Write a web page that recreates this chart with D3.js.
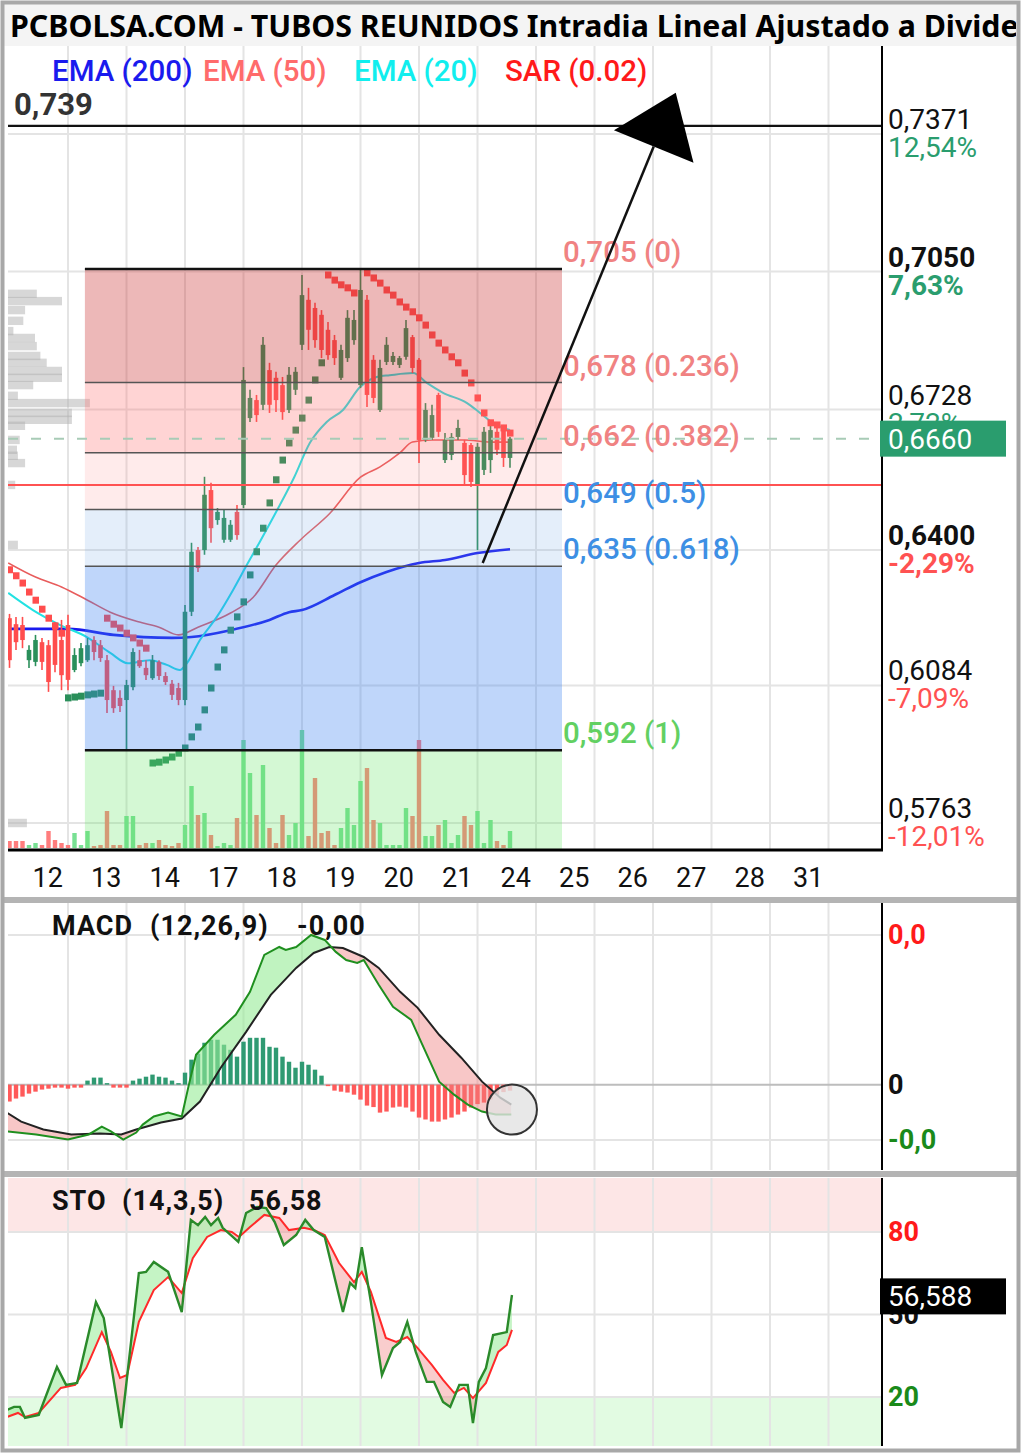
<!DOCTYPE html>
<html>
<head>
<meta charset="utf-8">
<script src="https://cdn.jsdelivr.net/npm/d3@7"></script>
<style>
body { margin: 0; background: #fff; }
svg text { font-family: Roboto, "Noto Sans", sans-serif; }
</style>
</head>
<body>
<div id="chart"></div>
<script>
// hourly bars, index 0 = first bar of day 12 (9 bars per session)
var open = [.6241,.6227,.6225,.6143,.6139,.6185,.6178,.6218,.6190,.6225,
  .6120,.6136,.6143,.6190,.6178,.6143,.6073,.6055,.6050,.6080,
  .6143,.6125,.6101,.6139,.6106,.6088,.6078,.6050,.6256,.6400,
  .6400,.6540,.6470,.6424,.6424,.6489,.6505,.6708,.6750,.6739,
  .6820,.6802,.6785,.6727,.6774,.6879,.6984,.6965,.6949,.6914,
  .6890,.6802,.6848,.6890,.6785,.6984,.6844,.6727,.6839,.6839,
  .6832,.6851,.6897,.6844,.6657,.6662,.6762,.6610,.6622,.6664,
  .6650,.6645,.6552,.6587,.6610,.6676,.6680,.6615];
var high = [.6251,.6244,.6244,.6178,.6202,.6195,.6190,.6232,.6237,.6249,
  .6171,.6183,.6195,.6199,.6190,.6155,.6083,.6073,.6097,.6171,
  .6167,.6143,.6155,.6143,.6115,.6097,.6090,.6272,.6417,.6407,
  .6571,.6557,.6498,.6494,.6470,.6505,.6827,.6774,.6762,.6897,
  .6837,.6816,.6804,.6827,.6827,.7042,.7012,.6977,.6960,.6932,
  .6902,.6879,.6960,.6960,.7054,.6995,.6855,.6844,.6897,.6862,
  .6853,.6937,.6902,.6848,.6743,.6739,.6767,.6673,.6673,.6704,
  .6657,.6650,.6650,.6687,.6692,.6685,.6692,.6664];
var low = [.6125,.6167,.6171,.6125,.6129,.6120,.6069,.6115,.6073,.6073,
  .6115,.6129,.6139,.6143,.6139,.6020,.6020,.6022,.5933,.6073,
  .6125,.6097,.6097,.6097,.6085,.6050,.6038,.6038,.6246,.6349,
  .6389,.6417,.6459,.6417,.6419,.6424,.6498,.6699,.6699,.6727,
  .6720,.6722,.6704,.6720,.6762,.6867,.6867,.6872,.6848,.6844,
  .6832,.6797,.6839,.6879,.6778,.6734,.6743,.6722,.6832,.6832,
  .6825,.6844,.6813,.6603,.6652,.6657,.6664,.6603,.6610,.6657,
  .6552,.6547,.6400,.6575,.6580,.6622,.6594,.6592];
var close = [.6143,.6185,.6190,.6167,.6190,.6139,.6092,.6132,.6108,.6097,
  .6155,.6171,.6178,.6162,.6148,.6050,.6031,.6036,.6085,.6162,
  .6129,.6108,.6143,.6106,.6092,.6062,.6050,.6256,.6396,.6358,
  .6529,.6451,.6489,.6475,.6459,.6435,.6797,.6755,.6715,.6879,
  .6739,.6750,.6722,.6809,.6816,.6995,.6914,.6890,.6867,.6855,
  .6848,.6867,.6942,.6937,.7007,.6762,.6755,.6825,.6879,.6853,
  .6848,.6918,.6825,.6657,.6727,.6715,.6676,.6657,.6664,.6685,
  .6575,.6559,.6641,.6676,.6680,.6634,.6615,.6660];
var volume = [7,7,7,3,5,3,17,8,5,3,15,3,17,2,3,37,3,3,32,32,
  3,5,5,8,3,2,5,23,62,33,35,13,2,5,3,30,108,75,33,83,
  20,5,33,13,25,118,12,70,15,17,3,20,40,23,67,80,28,25,3,3,
  3,40,32,108,12,12,23,28,5,13,32,23,37,5,28,7,3,17];

var days = ["12","13","14","17","18","19","20","21","24","25","26","27","28","31"];
var barsPerDay = 9;

// indicator lines: [bar index, value]
var ema200 = [[-0.2,0.6216],[9,0.6216],[16,0.6202],[25,0.6195],[28,0.6197],[34,0.6213],[40,0.6237],[43,0.6255],
  [45,0.6260],[50,0.6295],[54,0.6325],[58,0.6349],[63,0.6370],[67,0.6377],[72,0.6393],[77,0.6402]];
var ema50 = [[-0.2,0.6370],[4,0.6337],[8,0.6314],[12,0.6283],[15.5,0.6255],[20,0.6232],[23,0.6220],[26,0.6202],
  [29,0.6220],[34,0.6253],[37.5,0.6290],[41,0.6365],[44.7,0.6423],[49.3,0.6486],[54,0.6570],[57,0.6594],
  [60,0.6626],[62,0.6652],[65,0.6657],[70,0.6657],[74,0.6652],[77,0.6652]];
var ema20 = [[-0.2,0.6300],[3.6,0.6260],[7.8,0.6225],[11.9,0.6197],[15.5,0.6160],[18.2,0.6136],[21.6,0.6143],
  [24.2,0.6132],[26.2,0.6120],[27.3,0.6136],[29.3,0.6190],[31.9,0.6244],[34.4,0.6307],[36.5,0.6365],
  [38.5,0.6419],[41.2,0.6494],[43.8,0.6570],[46.2,0.6650],[48.8,0.6699],[51.3,0.6727],[53.9,0.6780],
  [56.5,0.6804],[58.5,0.6808],[62.1,0.6813],[64.2,0.6790],[66.7,0.6767],[70.4,0.6743],[72.4,0.6720],
  [74.4,0.6696],[77,0.6680]];
var sar = [.6354,.6340,.6323,.6302,.6283,.6262,.6241,.6223,.6206,.6055,
  .6057,.6059,.6062,.6064,.6066,.6241,.6227,.6218,.6206,.6195,
  .6183,.6171,.5903,.5905,.5910,.5917,.5926,.5938,.5964,.5987,
  .6027,.6078,.6127,.6167,.6213,.6244,.6279,.6342,.6396,.6451,
  .6510,.6564,.6610,.6650,.6680,.6708,.6750,.6797,.6837,.7042,
  .7030,.7019,.7012,.7000,null,.7047,.7035,.7023,.7007,.6995,
  .6979,.6967,.6956,.6942,.6925,.6902,.6883,.6867,.6851,.6837,
  .6813,.6790,.6755,.6720,.6697,.6692,.6685,.6673];

var priceGrid = [0.7371, 0.7050, 0.6728, 0.6400, 0.6084, 0.5763];
var priceGridText = ["0,7371","0,7050","0,6728","0,6400","0,6084","0,5763"];
var priceGridPct = ["12,54%","7,63%","2,72%","-2,29%","-7,09%","-12,01%"];
var strongLevels = [0.7050, 0.6400];
var lastPrice = 0.6660;
var sarLevel = 0.6552;
var targetLevel = 0.739;

var fibHigh = 0.7056, fibLow = 0.5933;
var fibRatios = [0, 0.236, 0.382, 0.5, 0.618, 1];
var fibLabels = ["0,705 (0)","0,678 (0.236)","0,662 (0.382)","0,649 (0.5)","0,635 (0.618)","0,592 (1)"];
var fibSpan = [11.6, 85];
var arrowFrom = [72.8, 0.6370], arrowTo = [102.5, 0.7467];

var profilePrice = [0.6998,0.6981,0.6960,0.6935,0.6911,0.6895,0.6876,0.6853,0.6837,0.6818,0.6802,0.6785,
  0.6760,0.6743,0.6720,0.6704,0.6690,0.6657,0.6634,0.6620,0.6603,0.6552,0.6412,0.5763];
var profileVol = [32,60,19,17,6,30,32,36,43,60,60,28,11,91,71,71,19,13,10,11,19,8,11,21];

var macdLine = [[-0.4,-0.00313],[4.1,-0.00333],[9,-0.00367],[12.2,-0.00333],[14.2,-0.0028],[15.6,-0.00313],
  [17.5,-0.00367],[19.5,-0.0032],[20.5,-0.00267],[22.2,-0.00213],[24.4,-0.00187],[26.5,-0.00213],[27.6,0],
  [28.7,0.002],[31.5,0.00333],[34.8,0.00467],[37,0.0062],[39.2,0.00867],[41.5,0.0092],[42.5,0.009],
  [44.1,0.0092],[46.4,0.01],[48.5,0.00967],[50.2,0.00887],[51.8,0.00833],[53.5,0.00813],[54.5,0.00833],
  [56.8,0.00667],[59,0.0052],[61.8,0.00433],[63.3,0.00287],[66.1,0.0002],[68.4,-0.00067],[70.5,-0.00133],
  [72.7,-0.0018],[74.8,-0.002],[77.2,-0.002]];
var macdSignal = [[-0.4,-0.00187],[1.8,-0.00247],[5.2,-0.003],[9.5,-0.00333],[13.9,-0.00327],[17.2,-0.00333],
  [19.5,-0.003],[23.3,-0.00253],[26.5,-0.00227],[29.3,-0.00113],[32.5,0.00113],[36.4,0.00353],[40.2,0.006],
  [44.1,0.0078],[46.8,0.0088],[49.2,0.0092],[51.3,0.00913],[54.5,0.00853],[56.8,0.0078],[60.1,0.0062],
  [62.8,0.00513],[66.1,0.00333],[69.5,0.0018],[72.7,0.0002],[75.5,-0.00087],[77.2,-0.00133]];
var macdHist = [-0.00113,-0.00093,-0.0008,-0.0006,-0.00047,-0.00033,-0.00027,-0.0002,-0.0002,-0.00027,
  -0.0002,-0.0002,0.00027,0.00047,0.00047,0.0001,-0.0002,-0.0002,-0.0002,0.00027,
  0.0004,0.00053,0.00067,0.00053,0.00047,0.00027,0.0001,0.0008,0.00167,0.00207,
  0.0028,0.003,0.003,0.00267,0.00233,0.00187,0.00287,0.00313,0.00313,0.00313,
  0.00253,0.00247,0.00187,0.00153,0.00113,0.00153,0.00133,0.001,0.0006,-0.0001,
  -0.0004,-0.00047,-0.00053,-0.00067,-0.001,-0.0014,-0.0015,-0.00187,-0.0018,-0.00153,
  -0.00147,-0.00153,-0.0018,-0.0022,-0.00233,-0.00247,-0.00247,-0.00233,-0.0022,-0.002,
  -0.0018,-0.00153,-0.0013,-0.0012,-0.001,-0.00067,-0.0005,-0.0004];
var macdTicks = [0.01, 0, -0.0037];
var macdTickText = ["0,0", "0", "-0,0"];
var macdMark = [77.3, -0.00167];

var stoK = [[-0.4,15.3],[0.7,16.4],[1.6,16.4],[2.4,12.4],[4.5,13.5],[7.3,30.9],[8.7,24.4],[10.4,25.1],
  [13.3,54.5],[14.5,48.7],[17.2,8.7],[19.9,65.1],[21,65.5],[22.2,69.1],[24.4,65.5],[26.5,50.9],[27.9,84.4],
  [29,82.5],[30.1,85.5],[31,82.5],[32.1,85.1],[32.8,81.5],[35.2,76.4],[36.4,86.9],[38.1,89.1],[39.5,88.7],
  [40.8,83.6],[42.2,75.3],[44.1,78.9],[45.5,84.4],[46.8,80.7],[48.5,78.2],[51.3,50.9],[52.4,61.5],
  [53.2,59.6],[54.2,74.5],[55.6,54.5],[57.3,28.0],[59,37.8],[60.1,40.0],[61.2,47.3],[62.5,36.4],
  [64.2,25.5],[65.3,25.5],[66.7,18.2],[67.8,16.4],[69.2,24.4],[70.5,24.4],[71.3,10.5],[72.2,25.5],
  [73.3,30.5],[74.4,42.5],[76.5,43.6],[77.3,57.1]];
var stoD = [[-0.4,12.7],[1.3,14.2],[2.4,12.7],[4.5,14.2],[7.9,23.3],[10.1,24.4],[11.8,30.5],[14.2,43.6],
  [15.6,36.4],[17,26.9],[18.1,28.0],[19.9,47.3],[22.2,58.9],[24.4,63.6],[26.5,57.8],[28.2,70.5],[30.4,78.2],
  [32.5,80.7],[34.2,80.0],[35.3,78.2],[37,81.8],[39.2,86.2],[41.5,85.1],[43,80.7],[45.3,81.5],[46.8,80.7],
  [48.5,78.9],[50.7,68.7],[53,61.8],[54.2,65.5],[55.6,58.2],[57.9,41.5],[59.5,40.0],[61.2,41.8],
  [62.8,37.8],[65,31.6],[66.7,26.2],[68.4,21.5],[69.9,23.3],[71.3,19.6],[73.3,25.1],[75.2,36.4],
  [76.5,38.9],[77.3,44.4]];
var stoTicks = [80, 50, 20];
var stoLast = 56.588;

var width = 1022, height = 1454;
var plotL = 8, plotR = 882, plotT = 46, plotB = 850;
var macdT = 903, macdB = 1170, stoT = 1178, stoB = 1446;

var up = "#2a8f5a", down = "#ff4d4d";

var svg = d3.select("#chart").append("svg")
  .attr("width", width).attr("height", height).style("display", "block");
var defs = svg.append("defs");

function clip(id, x0, y0, x1, y1) {
  defs.append("clipPath").attr("id", id).append("rect")
    .attr("x", x0).attr("y", y0).attr("width", x1 - x0).attr("height", y1 - y0);
  return "url(#" + id + ")";
}
function comma(v, n) { return v.toFixed(n).replace(".", ","); }

var x = d3.scaleLinear().domain([0, 126]).range([9.5, 828.5]);
var y = d3.scaleLinear().domain([0.5763, 0.7371]).range([823, 134]);
var yVol = d3.scaleLinear().domain([0, 120]).range([848, 728]);
var xProf = d3.scaleLinear().domain([0, 100]).range([8, 98]);
var yM = d3.scaleLinear().domain([-0.0037, 0.01]).range([1140, 935]);
var yS = d3.scaleLinear().domain([0, 100]).range([1452, 1177]);

svg.append("rect").attr("width", width).attr("height", height).attr("fill", "#fff");

// title
svg.append("rect").attr("x", 4).attr("y", 4).attr("width", 1014).attr("height", 42).attr("fill", "#f4f4f4");
svg.append("text")
  .attr("x", 10).attr("y", 37)
  .attr("clip-path", clip("titleClip", 4, 4, 1016, 46))
  .style("font-family", "'Noto Sans', sans-serif")
  .style("font-weight", 700).style("font-size", "30.3px").attr("fill", "#000")
  .text("PCBOLSA.COM - TUBOS REUNIDOS Intradia Lineal Ajustado a Dividendos");

var dayLines = d3.range(1, days.length + 1).map(function(k) { return k * barsPerDay; });

function vgrid(g, y0, y1) {
  g.selectAll(null).data(dayLines).enter().append("line")
    .attr("x1", function(d) { return x(d); }).attr("x2", function(d) { return x(d); })
    .attr("y1", y0).attr("y2", y1)
    .attr("stroke", "#e4e4e4").attr("stroke-width", 2);
}

// ---------- price panel ----------
var main = svg.append("g").attr("clip-path", clip("mainClip", plotL, plotT, plotR, plotB));
vgrid(main, plotT, plotB);
main.selectAll(null).data(priceGrid).enter().append("line")
  .attr("x1", plotL).attr("x2", plotR)
  .attr("y1", function(d) { return y(d); }).attr("y2", function(d) { return y(d); })
  .attr("stroke", "#e4e4e4").attr("stroke-width", 2);

// volume by price
main.selectAll(null).data(profilePrice).enter().append("rect")
  .attr("x", xProf(0))
  .attr("y", function(d) { return y(d + 0.00098); })
  .attr("width", function(d, i) { return xProf(profileVol[i]) - xProf(0); })
  .attr("height", function(d) { return y(d - 0.00098) - y(d + 0.00098); })
  .attr("fill", "rgba(175,175,175,0.5)");

// volume
main.selectAll(null).data(volume).enter().append("rect")
  .attr("x", function(d, i) { return x(i) - 2.2; })
  .attr("y", function(d) { return yVol(d); })
  .attr("width", 4.4)
  .attr("height", function(d) { return yVol(0) - yVol(d); })
  .attr("fill", function(d, i) { return close[i] >= open[i] ? "#78e093" : "#ff7d7d"; });

// moving averages
var emaLine = d3.line().x(function(d) { return x(d[0]); }).y(function(d) { return y(d[1]); })
  .curve(d3.curveMonotoneX);
main.append("path").attr("d", emaLine(ema50)).attr("fill", "none").attr("stroke", "#e85c5c").attr("stroke-width", 1.6);
main.append("path").attr("d", emaLine(ema200)).attr("fill", "none").attr("stroke", "#1a1aee").attr("stroke-width", 2.6);
main.append("path").attr("d", emaLine(ema20)).attr("fill", "none").attr("stroke", "#22e2e2").attr("stroke-width", 2);

// candles
var bars = main.selectAll(null).data(open).enter().append("g");
bars.append("line")
  .attr("x1", function(d, i) { return x(i); }).attr("x2", function(d, i) { return x(i); })
  .attr("y1", function(d, i) { return y(high[i]); }).attr("y2", function(d, i) { return y(low[i]); })
  .attr("stroke", function(d, i) { return close[i] >= open[i] ? up : down; })
  .attr("stroke-width", 1.6);
bars.append("rect")
  .attr("x", function(d, i) { return x(i) - 2.3; })
  .attr("width", 4.6)
  .attr("y", function(d, i) { return y(Math.max(open[i], close[i])); })
  .attr("height", function(d, i) { return Math.max(1.5, Math.abs(y(open[i]) - y(close[i]))); })
  .attr("fill", function(d, i) { return close[i] >= open[i] ? up : down; });

// parabolic SAR
var sarPts = sar.map(function(v, i) { return [i, v]; }).filter(function(d) { return d[1] !== null; });
main.selectAll(null).data(sarPts).enter().append("rect")
  .attr("x", function(d) { return x(d[0]) - 3; })
  .attr("y", function(d) { return y(d[1]) - 3.5; })
  .attr("width", 6.5).attr("height", 7)
  .attr("fill", function(d) { return d[1] > close[d[0]] ? "#ff4d4d" : up; });

// fibonacci retracement zones
function fibPrice(r) { return fibHigh - r * (fibHigh - fibLow); }
var zoneColors = ["rgba(204,51,51,0.35)", "rgba(255,100,100,0.28)", "rgba(255,120,120,0.15)",
  "rgba(120,170,230,0.2)", "rgba(60,130,240,0.33)", "rgba(100,230,100,0.28)"];
var zoneEdges = fibRatios.map(fibPrice).concat([y.invert(plotB + 2)]);
main.selectAll(null).data(zoneColors).enter().append("rect")
  .attr("x", x(fibSpan[0])).attr("width", x(fibSpan[1]) - x(fibSpan[0]))
  .attr("y", function(d, i) { return y(zoneEdges[i]); })
  .attr("height", function(d, i) { return y(zoneEdges[i + 1]) - y(zoneEdges[i]); })
  .attr("fill", function(d) { return d; });
main.selectAll(null).data(fibRatios).enter().append("line")
  .attr("x1", x(fibSpan[0])).attr("x2", x(fibSpan[1]))
  .attr("y1", function(d) { return y(fibPrice(d)); }).attr("y2", function(d) { return y(fibPrice(d)); })
  .attr("stroke", function(d) { return d === 0 || d === 1 ? "#111" : "#555"; })
  .attr("stroke-width", function(d) { return d === 0 || d === 1 ? 2.5 : 1.5; });

// reference lines
main.append("line").attr("x1", plotL).attr("x2", plotR).attr("y1", y(sarLevel)).attr("y2", y(sarLevel))
  .attr("stroke", "#ff5252").attr("stroke-width", 2);
main.append("line").attr("x1", plotL).attr("x2", plotR).attr("y1", y(lastPrice)).attr("y2", y(lastPrice))
  .attr("stroke", "#a8cbb6").attr("stroke-width", 2).attr("stroke-dasharray", "10,13");
main.append("line").attr("x1", plotL).attr("x2", plotR).attr("y1", y(targetLevel)).attr("y2", y(targetLevel))
  .attr("stroke", "#111").attr("stroke-width", 2.2);

var fibColors = ["#f08282", "#f08282", "#f08282", "#3d8fe4", "#3d8fe4", "#62d062"];
main.selectAll(null).data(fibRatios).enter().append("text")
  .attr("x", x(fibSpan[1]) + 1)
  .attr("y", function(d) { return y(fibPrice(d)) - 7; })
  .attr("fill", function(d, i) { return fibColors[i]; })
  .style("font-size", "29.5px").style("font-weight", 500)
  .text(function(d, i) { return fibLabels[i]; });

// projection arrow
var ax0 = x(arrowFrom[0]), ay0 = y(arrowFrom[1]), ax1 = x(arrowTo[0]), ay1 = y(arrowTo[1]);
var alen = Math.hypot(ax1 - ax0, ay1 - ay0), ux = (ax1 - ax0) / alen, uy = (ay1 - ay0) / alen;
var hb = [ax1 - ux * 58, ay1 - uy * 58];
main.append("line").attr("x1", ax0).attr("y1", ay0).attr("x2", hb[0]).attr("y2", hb[1])
  .attr("stroke", "#111").attr("stroke-width", 2.5);
main.append("path")
  .attr("d", "M" + ax1 + "," + ay1 + "L" + (hb[0] - uy * 43) + "," + (hb[1] + ux * 43) +
    "L" + (hb[0] + uy * 43) + "," + (hb[1] - ux * 43) + "Z")
  .attr("fill", "#000");

svg.append("text").attr("x", 14).attr("y", 115).attr("fill", "#333")
  .style("font-size", "31px").style("font-weight", 700).text(comma(targetLevel, 3));

var legendText = ["EMA (200)", "EMA (50)", "EMA (20)", "SAR (0.02)"];
var legendColors = ["#1a1aee", "#ff6b6b", "#11eeee", "#ff1a1a"];
var legendX = [52, 203, 354, 505];
svg.selectAll(null).data(legendText).enter().append("text")
  .attr("x", function(d, i) { return legendX[i]; }).attr("y", 81)
  .attr("fill", function(d, i) { return legendColors[i]; })
  .style("font-size", "29.5px").style("font-weight", 500)
  .text(function(d) { return d; });

// axes of price panel
svg.append("line").attr("x1", plotR).attr("x2", plotR).attr("y1", plotT).attr("y2", plotB + 1)
  .attr("stroke", "#000").attr("stroke-width", 2);
svg.append("line").attr("x1", plotL).attr("x2", plotR + 1).attr("y1", plotB).attr("y2", plotB)
  .attr("stroke", "#000").attr("stroke-width", 3);

priceGrid.forEach(function(p, i) {
  var strong = strongLevels.indexOf(p) >= 0;
  svg.append("text").attr("x", 888).attr("y", y(p) - 5).attr("fill", "#111")
    .style("font-size", "28px").style("font-weight", strong ? 700 : 400).text(priceGridText[i]);
  svg.append("text").attr("x", 888).attr("y", y(p) + 23)
    .attr("fill", priceGridPct[i].charAt(0) === "-" ? "#ff5252" : "#2a9d6e")
    .style("font-size", "28px").style("font-weight", strong ? 700 : 400).text(priceGridPct[i]);
});
svg.append("rect").attr("x", 880).attr("y", y(lastPrice) - 18).attr("width", 126).attr("height", 36)
  .attr("fill", "#2a9d6e");
svg.append("text").attr("x", 888).attr("y", y(lastPrice) + 10).attr("fill", "#fff")
  .style("font-size", "28px").text(comma(lastPrice, 4));

// day labels
svg.selectAll(null).data(days).enter().append("text")
  .attr("x", function(d, i) { return x(i * barsPerDay + 4.5) + 9; }).attr("y", 887)
  .attr("text-anchor", "middle").attr("fill", "#111").style("font-size", "27px")
  .text(function(d) { return d; });

// panel separators
svg.append("rect").attr("x", 4).attr("y", 897).attr("width", 1014).attr("height", 6).attr("fill", "#b4b4b4");
svg.append("rect").attr("x", 4).attr("y", 1171).attr("width", 1014).attr("height", 6).attr("fill", "#b4b4b4");

// ---------- cross fill helper ----------
function crossFill(g, id, a, b, ys, yTop, yBot, upFill, downFill) {
  var ln = d3.line().x(function(d) { return x(d[0]); }).y(function(d) { return ys(d[1]); });
  var poly = ln(a) + "L" + ln(b.slice().reverse()).slice(1) + "Z";
  var above = d3.area().x(function(d) { return x(d[0]); }).y0(yTop).y1(function(d) { return ys(d[1]); });
  var below = d3.area().x(function(d) { return x(d[0]); }).y0(yBot).y1(function(d) { return ys(d[1]); });
  defs.append("clipPath").attr("id", id + "Up").append("path").attr("d", above(b));
  defs.append("clipPath").attr("id", id + "Dn").append("path").attr("d", below(b));
  g.append("path").attr("d", poly).attr("fill", upFill).attr("fill-rule", "evenodd")
    .attr("clip-path", "url(#" + id + "Up)");
  g.append("path").attr("d", poly).attr("fill", downFill).attr("fill-rule", "evenodd")
    .attr("clip-path", "url(#" + id + "Dn)");
  return ln;
}

function panelTitle(yb, parts) {
  parts.forEach(function(p) {
    svg.append("text").attr("x", p[0]).attr("y", yb)
      .style("font-size", "27px").style("font-weight", 700).style("letter-spacing", "1px")
      .attr("fill", "#111").text(p[1]);
  });
}

// ---------- MACD panel ----------
var mg = svg.append("g").attr("clip-path", clip("macdClip", plotL, macdT, plotR, macdB));
vgrid(mg, macdT, macdB);
mg.selectAll(null).data(macdTicks).enter().append("line")
  .attr("x1", plotL).attr("x2", plotR)
  .attr("y1", function(d) { return yM(d); }).attr("y2", function(d) { return yM(d); })
  .attr("stroke", function(d) { return d === 0 ? "#bdbdbd" : "#e4e4e4"; }).attr("stroke-width", 2);
mg.selectAll(null).data(macdHist).enter().append("rect")
  .attr("x", function(d, i) { return x(i) - 2.2; }).attr("width", 4.4)
  .attr("y", function(d) { return Math.min(yM(d), yM(0)); })
  .attr("height", function(d) { return Math.abs(yM(d) - yM(0)); })
  .attr("fill", function(d) { return d >= 0 ? "#2f9a72" : "#ff5a5a"; });
var mln = crossFill(mg, "macdFill", macdLine, macdSignal, yM, macdT, macdB,
  "rgba(150,235,150,0.6)", "rgba(240,130,130,0.45)");
mg.append("path").attr("d", mln(macdSignal)).attr("fill", "none").attr("stroke", "#222").attr("stroke-width", 2);
mg.append("path").attr("d", mln(macdLine)).attr("fill", "none").attr("stroke", "#1f8f1f").attr("stroke-width", 2);
mg.append("circle").attr("cx", x(macdMark[0])).attr("cy", yM(macdMark[1])).attr("r", 25)
  .attr("fill", "rgba(226,226,226,0.8)").attr("stroke", "#333").attr("stroke-width", 2);

svg.append("line").attr("x1", plotR).attr("x2", plotR).attr("y1", macdT).attr("y2", macdB)
  .attr("stroke", "#000").attr("stroke-width", 2);
var macdTickColors = ["#ff1a1a", "#111", "#1a8a1a"];
svg.selectAll(null).data(macdTicks).enter().append("text")
  .attr("x", 888).attr("y", function(d) { return yM(d) + 9; })
  .attr("fill", function(d, i) { return macdTickColors[i]; })
  .style("font-size", "27px").style("font-weight", 700)
  .text(function(d, i) { return macdTickText[i]; });
panelTitle(935, [[52, "MACD"], [150, "(12,26,9)"], [297, "-0,00"]]);

// ---------- Stochastic panel ----------
var sg = svg.append("g").attr("clip-path", clip("stoClip", plotL, stoT, plotR, stoB));
sg.append("rect").attr("x", plotL).attr("width", plotR - plotL).attr("y", stoT)
  .attr("height", yS(80) - stoT).attr("fill", "#fde6e6");
sg.append("rect").attr("x", plotL).attr("width", plotR - plotL).attr("y", yS(20))
  .attr("height", stoB - yS(20)).attr("fill", "#e2fbe2");
vgrid(sg, stoT, stoB);
sg.selectAll(null).data(stoTicks).enter().append("line")
  .attr("x1", plotL).attr("x2", plotR)
  .attr("y1", function(d) { return yS(d); }).attr("y2", function(d) { return yS(d); })
  .attr("stroke", "#e4e4e4").attr("stroke-width", 2);
var sln = crossFill(sg, "stoFill", stoK, stoD, yS, stoT, stoB,
  "rgba(150,235,150,0.55)", "rgba(240,130,130,0.4)");
sg.append("path").attr("d", sln(stoD)).attr("fill", "none").attr("stroke", "#ff2a2a").attr("stroke-width", 2);
sg.append("path").attr("d", sln(stoK)).attr("fill", "none").attr("stroke", "#2a8a2a").attr("stroke-width", 2.4);

svg.append("line").attr("x1", plotR).attr("x2", plotR).attr("y1", stoT).attr("y2", stoB)
  .attr("stroke", "#000").attr("stroke-width", 2);
var stoTickColors = ["#ff1a1a", "#111", "#1a8a1a"];
svg.selectAll(null).data(stoTicks).enter().append("text")
  .attr("x", 888).attr("y", function(d) { return yS(d) + 9; })
  .attr("fill", function(d, i) { return stoTickColors[i]; })
  .style("font-size", "27px").style("font-weight", 700)
  .text(function(d) { return d; });
svg.append("rect").attr("x", 880).attr("y", yS(stoLast) - 18).attr("width", 126).attr("height", 36)
  .attr("fill", "#000");
svg.append("text").attr("x", 888).attr("y", yS(stoLast) + 10).attr("fill", "#fff")
  .style("font-size", "28px").text(comma(stoLast, 3));
panelTitle(1210, [[52, "STO"], [122, "(14,3,5)"], [249, comma(Math.floor(stoLast * 100) / 100, 2)]]);

// outer frame
svg.append("rect").attr("x", 2.5).attr("y", 2.5).attr("width", 1016).attr("height", 1448)
  .attr("fill", "none").attr("stroke", "#a8a8a8").attr("stroke-width", 4);
</script>
</body>
</html>
